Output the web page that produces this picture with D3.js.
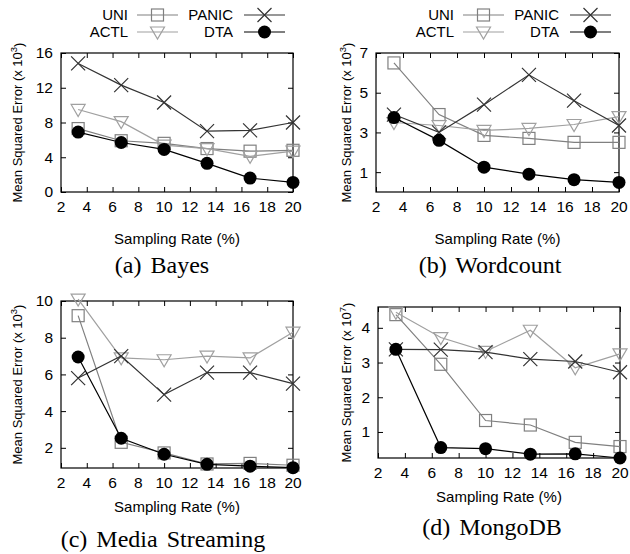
<!DOCTYPE html>
<html lang="en">
<head>
<meta charset="UTF-8">
<title>Sampling rate vs MSE</title>
<script src="https://d3js.org/d3.v7.min.js"></script>
<style>
  body { margin: 0; background: #fff; }
  svg { display: block; font-family: "Liberation Sans", Arial, sans-serif; }
  .caption { font-family: "Liberation Serif", "Times New Roman", serif; }
</style>
</head>
<body>
<div id="chart"></div>
<script>
// sampling rates (%) shared by all panels
const rates = [3.33, 6.67, 10, 13.33, 16.67, 20];
const xTicks = [2, 4, 6, 8, 10, 12, 14, 16, 18, 20];
const seriesNames = ["UNI", "ACTL", "PANIC", "DTA"];

// (a) Bayes, x 10^3
const bayesUni   = [7.3, 5.9, 5.6, 5.0, 4.7, 4.8];
const bayesActl  = [9.5, 8.1, 5.4, 5.0, 4.1, 4.7];
const bayesPanic = [14.8, 12.3, 10.3, 7.0, 7.1, 8.0];
const bayesDta   = [6.9, 5.7, 4.9, 3.3, 1.6, 1.1];
const bayesTicks = [0, 4, 8, 12, 16];

// (b) Wordcount, x 10^3
const wcUni   = [6.5, 3.9, 2.85, 2.7, 2.5, 2.5];
const wcActl  = [3.5, 3.35, 3.1, 3.2, 3.4, 3.8];
const wcPanic = [3.9, 3.0, 4.4, 5.9, 4.6, 3.35];
const wcDta   = [3.75, 2.6, 1.25, 0.9, 0.62, 0.48];
const wcTicks = [1, 3, 5, 7];

// (c) Media Streaming, x 10^3
const msUni   = [9.2, 2.3, 1.72, 1.12, 1.15, 1.05];
const msActl  = [10.1, 6.9, 6.8, 7.0, 6.9, 8.3];
const msPanic = [5.8, 7.0, 4.9, 6.1, 6.1, 5.5];
const msDta   = [6.95, 2.52, 1.65, 1.1, 1.0, 0.92];
const msTicks = [2, 4, 6, 8, 10];

// (d) MongoDB, x 10^7
const mgUni   = [4.38, 2.95, 1.33, 1.2, 0.7, 0.58];
const mgActl  = [4.45, 3.72, 3.32, 3.93, 2.85, 3.25];
const mgPanic = [3.38, 3.37, 3.3, 3.1, 3.03, 2.72];
const mgDta   = [3.38, 0.55, 0.52, 0.36, 0.37, 0.25];
const mgTicks = [1, 2, 3, 4];

const styles = {
  UNI:   { color: "#808080", marker: "square" },
  ACTL:  { color: "#a0a0a0", marker: "triangle" },
  PANIC: { color: "#333333", marker: "cross" },
  DTA:   { color: "#000000", marker: "circle" }
};

const panels = [
  { caption: "(a) Bayes", exp: "3", series: [bayesUni, bayesActl, bayesPanic, bayesDta], ticks: bayesTicks,
    domain: [0, 16], box: [61, 293, 53, 192], ylabX: 17, tickY: 207, xlabY: 239, capX: 162, capY: 265, legend: true },
  { caption: "(b) Wordcount", exp: "3", series: [wcUni, wcActl, wcPanic, wcDta], ticks: wcTicks,
    domain: [0, 7], box: [376, 619, 53, 192], ylabX: 346, tickY: 207, xlabY: 239, capX: 490, capY: 265, legend: true },
  { caption: "(c) Media Streaming", exp: "3", series: [msUni, msActl, msPanic, msDta], ticks: msTicks,
    domain: [0.9, 10], box: [61, 293, 301, 468], ylabX: 17, tickY: 483, xlabY: 507, capX: 163, capY: 539, legend: false },
  { caption: "(d) MongoDB", exp: "7", series: [mgUni, mgActl, mgPanic, mgDta], ticks: mgTicks,
    domain: [0.25, 4.6], box: [378, 620, 307, 458], ylabX: 346, tickY: 473, xlabY: 497, capX: 492, capY: 527, legend: false }
];

const svg = d3.select("#chart").append("svg")
  .attr("width", 630)
  .attr("height", 554);

function drawMarker(g, type, cx, cy, color) {
  if (type === "square") {
    g.append("rect").attr("x", cx - 6).attr("y", cy - 6).attr("width", 12).attr("height", 12)
      .attr("fill", "none").attr("stroke", color).attr("stroke-width", 1.2);
  } else if (type === "triangle") {
    g.append("path").attr("d", `M${cx - 7},${cy - 5}L${cx + 7},${cy - 5}L${cx},${cy + 7}Z`)
      .attr("fill", "none").attr("stroke", color).attr("stroke-width", 1.2);
  } else if (type === "cross") {
    g.append("path").attr("d", `M${cx - 7},${cy - 7}L${cx + 7},${cy + 7}M${cx - 7},${cy + 7}L${cx + 7},${cy - 7}`)
      .attr("fill", "none").attr("stroke", color).attr("stroke-width", 1.2);
  } else {
    g.append("circle").attr("cx", cx).attr("cy", cy).attr("r", 6.5).attr("fill", color);
  }
}

panels.forEach(p => {
  const [left, right, top, bottom] = p.box;
  const x = d3.scaleLinear().domain([2, 20]).range([left, right]);
  const y = d3.scaleLinear().domain(p.domain).range([bottom, top]);
  const g = svg.append("g");

  // ticks inside on all four sides
  g.append("g").attr("transform", `translate(0,${bottom})`)
    .call(d3.axisTop(x).tickValues(xTicks).tickSize(5).tickFormat(""))
    .call(a => a.select(".domain").remove());
  g.append("g").attr("transform", `translate(0,${top})`)
    .call(d3.axisBottom(x).tickValues(xTicks).tickSize(5).tickFormat(""))
    .call(a => a.select(".domain").remove());
  g.append("g").attr("transform", `translate(${left},0)`)
    .call(d3.axisRight(y).tickValues(p.ticks).tickSize(5).tickFormat(""))
    .call(a => a.select(".domain").remove());
  g.append("g").attr("transform", `translate(${right},0)`)
    .call(d3.axisLeft(y).tickValues(p.ticks).tickSize(5).tickFormat(""))
    .call(a => a.select(".domain").remove());
  g.selectAll(".tick line").attr("stroke", "#000").attr("stroke-width", 1);

  g.append("rect").attr("x", left).attr("y", top)
    .attr("width", right - left).attr("height", bottom - top)
    .attr("fill", "none").attr("stroke", "#000").attr("stroke-width", 1.2);

  // tick labels
  g.selectAll(".xt").data(xTicks).enter().append("text")
    .attr("x", d => x(d)).attr("y", p.tickY).attr("dy", "0.35em")
    .attr("text-anchor", "middle").attr("font-size", 15.5).text(d => d);
  g.selectAll(".yt").data(p.ticks).enter().append("text")
    .attr("x", left - 8).attr("y", d => y(d)).attr("dy", "0.35em")
    .attr("text-anchor", "end").attr("font-size", 15.5).text(d => d);

  // axis titles
  g.append("text").attr("x", (left + right) / 2).attr("y", p.xlabY).attr("dy", "0.35em")
    .attr("text-anchor", "middle").attr("font-size", 15).text("Sampling Rate (%)");
  const yl = g.append("text")
    .attr("transform", `translate(${p.ylabX},${(top + bottom) / 2}) rotate(-90)`)
    .attr("text-anchor", "middle").attr("dy", "0.35em").attr("font-size", 13);
  yl.append("tspan").text("Mean Squared Error (x 10");
  yl.append("tspan").attr("font-size", 9.5).attr("dy", "-0.5em").text(p.exp);
  yl.append("tspan").attr("dy", "0.5em").text(")");

  g.append("text").attr("class", "caption").attr("x", p.capX).attr("y", p.capY)
    .attr("dy", "0.35em").attr("text-anchor", "middle").attr("font-size", 24)
    .attr("word-spacing", 3).text(p.caption);

  // series
  const line = d3.line().x((d, i) => x(rates[i])).y(d => y(d));
  p.series.forEach((vals, si) => {
    const st = styles[seriesNames[si]];
    const sg = g.append("g");
    sg.append("path").datum(vals).attr("d", line)
      .attr("fill", "none").attr("stroke", st.color).attr("stroke-width", 1.2);
    vals.forEach((v, i) => drawMarker(sg, st.marker, x(rates[i]), y(v), st.color));
  });

  // legend
  if (p.legend) {
    const cols = [
      { names: ["UNI", "ACTL"], textX: right - 165, lx0: right - 156, lx1: right - 115 },
      { names: ["PANIC", "DTA"], textX: right - 60, lx0: right - 49, lx1: right - 8 }
    ];
    const rowsY = [15, 32];
    cols.forEach(c => {
      c.names.forEach((n, ri) => {
        const st = styles[n];
        const ly = rowsY[ri];
        g.append("text").attr("x", c.textX).attr("y", ly).attr("dy", "0.35em")
          .attr("text-anchor", "end").attr("font-size", 15).text(n);
        g.append("line").attr("x1", c.lx0).attr("x2", c.lx1).attr("y1", ly).attr("y2", ly)
          .attr("stroke", st.color).attr("stroke-width", 1.2);
        drawMarker(g, st.marker, (c.lx0 + c.lx1) / 2, ly, st.color);
      });
    });
  }
});
</script>
</body>
</html>
